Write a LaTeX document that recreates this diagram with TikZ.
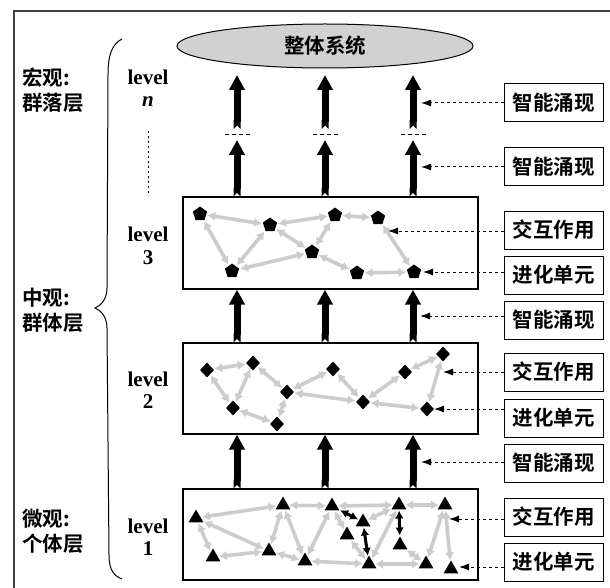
\documentclass[tikz,border=0pt]{standalone}
\usepackage{fontspec}
\setmainfont{Liberation Serif}
\newfontfamily\cjk{Noto Sans CJK SC}[UprightFont={* Bold}]
\usetikzlibrary{arrows.meta,shapes.geometric}
\definecolor{edgegray}{gray}{0.80}
\definecolor{ellgray}{gray}{0.82}
\tikzset{
  frameline/.style={draw=black!75, line width=1.4pt},
  netbox/.style={draw, line width=1.2pt, fill=white},
  labbox/.style={draw, line width=1pt, minimum width=99pt, minimum height=38pt, inner sep=0pt,
    font=\cjk\fontsize{20.5}{22}\selectfont},
  sidetext/.style={align=left, anchor=west, inner sep=0pt, font=\cjk\fontsize{20.5}{25}\selectfont},
  leveltext/.style={align=center, inner sep=0pt, font=\bfseries\fontsize{21}{22.5}\selectfont},
  bigarrow/.style={line width=7pt, {Triangle Cap[reversed]}-{Triangle[length=15pt,width=15pt]}},
  gaparrow/.style={draw=edgegray, line width=3.6pt, {Latex[length=8pt,width=9.5pt]}-{Latex[length=8pt,width=9.5pt]}, shorten <=1pt, shorten >=1pt},
  blkarrow/.style={draw=black, line width=3pt, {Latex[length=8pt,width=8.5pt]}-{Latex[length=8pt,width=8.5pt]}, shorten <=1pt, shorten >=1pt},
  pointer/.style={line width=1pt, dash pattern=on 3pt off 3pt, -{Latex[length=10pt,width=7pt]}},
  gapdash/.style={line width=1pt, dash pattern=on 4pt off 3pt},
  pent/.style={regular polygon, regular polygon sides=5, fill=black, minimum size=15pt, inner sep=0pt},
  diam/.style={diamond, fill=black, minimum width=14pt, minimum height=15pt, inner sep=0pt},
  tri/.style={regular polygon, regular polygon sides=3, fill=black, minimum size=17pt, inner sep=0pt},
}
\begin{document}
\begin{tikzpicture}[x=1pt,y=-1pt]
\useasboundingbox (0,0) rectangle (610,588);
% outer frame (cut by the page)
\draw[frameline] (14,600) -- (14,11) -- (620,11);

% whole system
\node[ellipse, draw, line width=1pt, fill=ellgray, minimum width=296pt, minimum height=44pt,
  font=\cjk\fontsize{20.5}{22}\selectfont] (sys) at (325,46) {整体系统};

% level boxes
\node[netbox, minimum width=295pt, minimum height=92pt, inner sep=0pt] (b3) at (330.5,243) {};
\node[netbox, minimum width=295pt, minimum height=91pt, inner sep=0pt] (b2) at (330.5,388.5) {};
\node[netbox, minimum width=295pt, minimum height=91pt, inner sep=0pt] (b1) at (330.5,534.5) {};

% side texts
\node[sidetext] (s3) at (22,90) {宏观:\\群落层};
\node[sidetext] (s2) at (22,310) {中观:\\群体层};
\node[sidetext] (s1) at (22,531) {微观:\\个体层};

% level texts
\node[leveltext] (lvn) at (148,88) {level\\\textbf{\textit{n}}};
\node[leveltext] (lv3) at (148,246) {level\\3};
\node[leveltext] (lv2) at (148,390) {level\\2};
\node[leveltext] (lv1) at (148,537) {level\\1};
\coordinate (vd1) at (148,131);
\coordinate (vd2) at (148,196);
\draw[line width=1pt, dash pattern=on 2pt off 3pt] (vd1) -- (vd2);

% brace
\draw[line width=1pt] (122,39) .. controls (112,44) and (108,55) .. (108,75)
  -- (107,288) .. controls (107,300) and (100,306) .. (95,308)
  .. controls (100,310) and (107,316) .. (107,328)
  -- (109,555) .. controls (109,570) and (114,576) .. (122,579);

% big arrows
\foreach \x [count=\i] in {237,325,413}{
  \coordinate (ut\i) at (\x,75);
  \coordinate (ub\i) at (\x,129);
  \coordinate (lt\i) at (\x,140);
  \coordinate (gl\i) at (\x-12,135);
  \coordinate (gr\i) at (\x+14,135);
  \draw[bigarrow] (ub\i) -- (ut\i);
  \draw[bigarrow] (b3.north -| lt\i) -- (lt\i);
  \draw[gapdash] (gl\i) -- (gr\i);
  \draw[bigarrow] (b2.north -| lt\i) -- (b3.south -| lt\i);
  \draw[bigarrow] (b1.north -| lt\i) -- (b2.south -| lt\i);
}

% level 3 network (pentagons)
\node[pent] (p1) at (200,214) {};
\node[pent] (p2) at (270,225) {};
\node[pent] (p3) at (335,215) {};
\node[pent] (p4) at (378,218) {};
\node[pent] (p5) at (312,252) {};
\node[pent] (p6) at (232,271) {};
\node[pent] (p7) at (357,273) {};
\node[pent] (p8) at (414,272) {};
\foreach \a/\b in {p1/p2,p1/p6,p2/p6,p2/p3,p3/p4,p2/p5,p3/p5,p6/p5,p5/p7,p7/p8,p4/p8}
  \draw[gaparrow] (\a) -- (\b);

% level 2 network (diamonds)
\node[diam] (d1) at (207,370) {};
\node[diam] (d2) at (253,363) {};
\node[diam] (d3) at (233,408) {};
\node[diam] (d4) at (277,424) {};
\node[diam] (d5) at (287,392) {};
\node[diam] (d6) at (333,369) {};
\node[diam] (d7) at (363,402) {};
\node[diam] (d8) at (405,372) {};
\node[diam] (d9) at (443,354) {};
\node[diam] (d10) at (427,409) {};
\foreach \a/\b in {d1/d2,d1/d3,d2/d3,d3/d4,d4/d5,d2/d5,d5/d6,d5/d7,d6/d7,d7/d8,d8/d9,d9/d10,d7/d10}
  \draw[gaparrow] (\a) -- (\b);

% level 1 network (triangles)
\node[tri] (t1) at (196,518) {};
\node[tri] (t2) at (213,557) {};
\node[tri] (t3) at (283,505) {};
\node[tri] (t4) at (269,551) {};
\node[tri] (t5) at (305,561) {};
\node[tri] (t6) at (332,506) {};
\node[tri] (t7) at (347,535) {};
\node[tri] (t8) at (363,522) {};
\node[tri] (t9) at (369,564) {};
\node[tri] (t10) at (399,505) {};
\node[tri] (t11) at (400,545) {};
\node[tri] (t12) at (426,564) {};
\node[tri] (t13) at (445,505) {};
\node[tri] (t14) at (451,569) {};
\foreach \a/\b in {t1/t3,t1/t2,t1/t4,t2/t4,t3/t4,t3/t6,t3/t5,t4/t5,t5/t6,t5/t9,t6/t7,t6/t10,t7/t9,t8/t10,t10/t9,t10/t13,t11/t12,t9/t12,t13/t12,t13/t14}
  \draw[gaparrow] (\a) -- (\b);
\foreach \a/\b in {t6/t8,t8/t9,t10/t11}
  \draw[blkarrow] (\a) -- (\b);

% right labels
\node[labbox] (e1) at (553.5,103) {智能涌现};
\node[labbox] (e2) at (553.5,167) {智能涌现};
\node[labbox] (i3) at (553.5,230) {交互作用};
\node[labbox] (u3) at (553.5,275) {进化单元};
\node[labbox] (e3) at (553.5,320) {智能涌现};
\node[labbox] (i2) at (553.5,372) {交互作用};
\node[labbox] (u2) at (553.5,418) {进化单元};
\node[labbox] (e4) at (553.5,463) {智能涌现};
\node[labbox] (i1) at (553.5,517) {交互作用};
\node[labbox] (u1) at (553.5,562) {进化单元};

\coordinate (pe1) at (421,103);
\coordinate (pe2) at (421,167);
\coordinate (pi3) at (388,231);
\coordinate (pu3) at (423,272);
\coordinate (pe3) at (420,316);
\coordinate (pi2) at (443,372);
\coordinate (pu2) at (434,409);
\coordinate (pe4) at (421,462);
\coordinate (pi1) at (449,519);
\coordinate (pu1) at (459,567);
\foreach \l/\p in {e1/pe1,e2/pe2,i3/pi3,u3/pu3,e3/pe3,i2/pi2,u2/pu2,e4/pe4,i1/pi1,u1/pu1}
  \draw[pointer] (\l.west |- \p) -- (\p);
\end{tikzpicture}
\end{document}
